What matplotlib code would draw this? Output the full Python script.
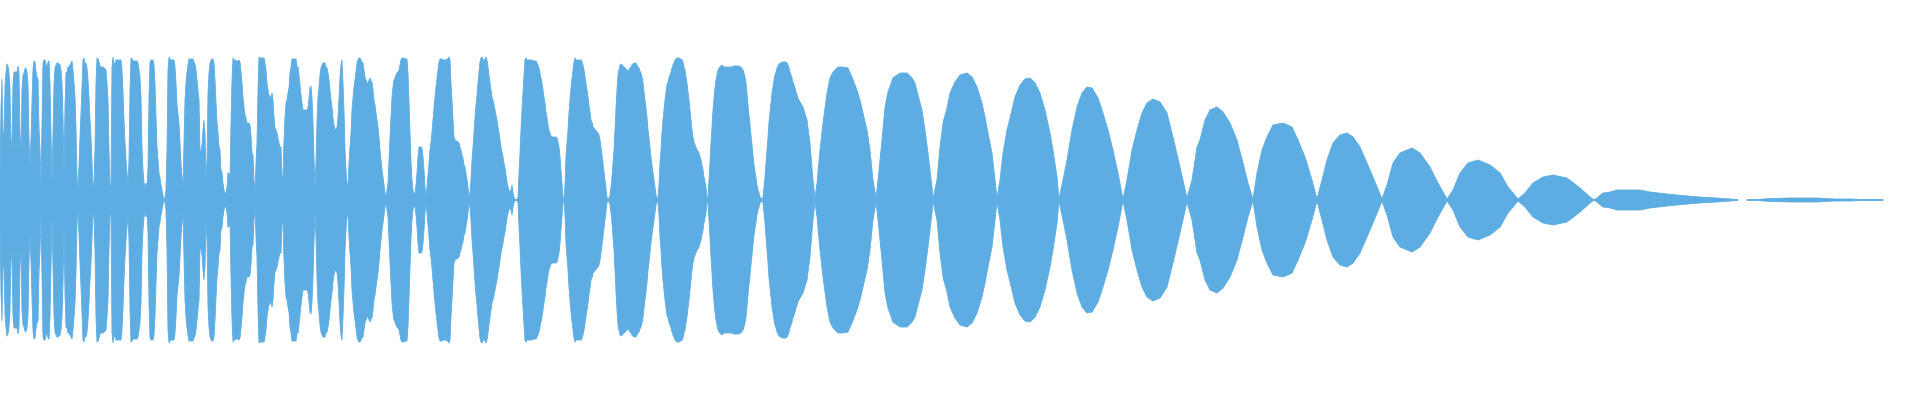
import numpy as np
import matplotlib
matplotlib.use("Agg")
import matplotlib.pyplot as plt

# waveform peak level, one reading per column for the busy first part (columns 0-799)
dense_level = [
    27, 92, 121, 63, 68, 114, 128, 136, 134, 127,
    112, 51, 61, 116, 128, 128, 128, 128, 134, 128,
    64, 51, 111, 125, 127, 131, 132, 128, 117, 62,
    32, 61, 98, 131, 139, 138, 129, 122, 122, 73,
    50, 19, 77, 137, 140, 140, 135, 133, 138, 139,
    117, 67, 18, 67, 115, 132, 135, 137, 137, 136,
    135, 130, 117, 83, 30, 93, 127, 128, 133, 133,
    135, 137, 139, 130, 118, 103, 72, 24, 8, 35,
    63, 87, 113, 140, 142, 137, 137, 132, 120, 103,
    80, 63, 38, 13, 18, 51, 118, 142, 141, 138,
    # 100
    134, 133, 133, 133, 132, 131, 130, 117, 100, 50,
    14, 14, 133, 143, 135, 137, 140, 140, 140, 140,
    140, 140, 130, 108, 80, 57, 40, 27, 15, 40,
    110, 142, 141, 139, 139, 139, 139, 139, 137, 130,
    123, 103, 53, 30, 17, 12, 17, 12, 33, 103,
    138, 140, 140, 140, 135, 117, 83, 53, 40, 27,
    22, 15, 10, 5, 0, 2, 10, 50, 130, 143,
    141, 140, 140, 140, 140, 133, 117, 95, 85, 77,
    57, 37, 23, 13, 57, 100, 117, 128, 135, 141,
    141, 141, 141, 141, 138, 136, 130, 120, 110, 100,
    # 200
    50, 48, 55, 70, 80, 67, 22, 40, 107, 127,
    137, 140, 141, 141, 137, 120, 98, 78, 67, 53,
    50, 30, 28, 17, 10, 7, 7, 13, 27, 27,
    18, 77, 120, 142, 140, 140, 139, 139, 139, 140,
    138, 128, 117, 103, 93, 85, 82, 77, 77, 77,
    75, 65, 47, 45, 20, 8, 37, 57, 110, 143,
    142, 142, 142, 142, 142, 137, 130, 117, 110, 105,
    103, 103, 107, 100, 83, 72, 70, 67, 62, 57,
    53, 53, 23, 23, 60, 83, 97, 100, 107, 112,
    127, 133, 141, 141, 141, 141, 141, 133, 133, 125,
    # 300
    115, 105, 97, 90, 90, 90, 90, 90, 92, 102,
    112, 114, 102, 78, 42, 12, 37, 78, 103, 113,
    125, 132, 135, 137, 137, 137, 133, 132, 127, 120,
    110, 100, 93, 82, 75, 71, 70, 73, 83, 102,
    123, 135, 140, 117, 90, 50, 30, 17, 13, 37,
    53, 67, 90, 102, 113, 120, 128, 137, 140, 142,
    142, 140, 138, 137, 130, 123, 120, 117, 117, 120,
    122, 119, 118, 110, 100, 95, 87, 80, 73, 63,
    50, 40, 30, 23, 15, 7, 3, 10, 17, 40,
    63, 83, 103, 113, 120, 122, 125, 127, 128, 130,
    # 400
    135, 140, 142, 142, 142, 141, 141, 141, 127, 98,
    67, 38, 20, 10, 5, 7, 15, 27, 43, 53,
    53, 53, 52, 43, 30, 13, 3, 13, 25, 37,
    50, 58, 68, 80, 92, 103, 113, 122, 130, 138,
    141, 141, 141, 140, 140, 140, 140, 141, 141, 143,
    140, 117, 100, 80, 63, 60, 59, 59, 58, 57,
    53, 50, 45, 42, 35, 33, 27, 20, 13, 3,
    7, 20, 40, 53, 67, 82, 95, 105, 117, 128,
    138, 142, 143, 141, 138, 141, 143, 140, 133, 125,
    117, 110, 103, 100, 95, 90, 85, 80, 73, 67,
    # 500
    60, 53, 48, 43, 37, 32, 25, 18, 13, 10,
    7, 10, 15, 7, 3, 0, 0, 0, 3, 27,
    47, 70, 90, 108, 125, 140, 142, 140, 140, 140,
    140, 140, 140, 139, 139, 139, 139, 137, 135, 132,
    127, 122, 117, 110, 103, 97, 88, 82, 75, 70,
    67, 64, 63, 63, 63, 63, 63, 62, 58, 53,
    43, 30, 17, 3, 0, 15, 43, 57, 70, 87,
    100, 112, 122, 130, 138, 142, 140, 140, 140, 140,
    140, 140, 138, 135, 130, 123, 117, 110, 103, 95,
    88, 80, 78, 73, 72, 70, 70, 68, 67, 65,
    # 600
    60, 53, 45, 37, 28, 20, 12, 2, 2, 0,
    5, 13, 23, 37, 50, 70, 92, 110, 125, 130,
    135, 136, 135, 134, 133, 132, 131, 130, 129, 130,
    132, 133, 135, 136, 137, 137, 137, 135, 133, 132,
    129, 127, 123, 118, 108, 100, 92, 83, 70, 62,
    52, 43, 35, 27, 20, 13, 5, 2, 3, 15,
    37, 50, 67, 80, 90, 100, 108, 115, 118, 122,
    125, 128, 132, 135, 137, 140, 141, 142, 142, 142,
    141, 141, 140, 138, 133, 130, 123, 117, 108, 100,
    90, 80, 70, 63, 58, 55, 53, 50, 49, 47,
    # 700
    43, 40, 35, 30, 23, 18, 12, 3, 2, 20,
    38, 57, 73, 90, 102, 112, 120, 125, 130, 132,
    133, 134, 135, 134, 133, 133, 133, 133, 133, 133,
    133, 133, 133, 134, 134, 134, 134, 134, 134, 134,
    133, 133, 131, 130, 127, 123, 117, 107, 95, 85,
    75, 65, 55, 45, 35, 28, 22, 15, 10, 7,
    3, 2, 0, 3, 13, 23, 37, 50, 63, 78,
    88, 97, 107, 113, 120, 125, 128, 132, 134, 136,
    137, 137, 138, 138, 138, 138, 138, 137, 135, 132,
    128, 125, 122, 118, 115, 112, 108, 105, 102, 100,
]

# smoother decaying part: column / level readings
tail_pos = [
    800, 803, 807, 810, 813, 815,
    817, 820, 823, 827, 830, 833, 838, 843, 848, 852, 857, 860, 863, 867, 870, 873, 876,
    878, 882, 885, 888, 893, 900, 907, 912, 915, 918, 922, 925, 928, 932, 933,
    937, 940, 943, 947, 950, 955, 960, 967, 972, 977, 982, 985, 988, 992, 995, 997,
    1000, 1003, 1007, 1010, 1015, 1020, 1025, 1030, 1035, 1040, 1045, 1050, 1053, 1057, 1059,
    1063, 1067, 1072, 1077, 1082, 1087, 1092, 1098, 1103, 1108, 1113, 1118, 1123,
    1127, 1132, 1137, 1142, 1147, 1153, 1160, 1167, 1173, 1180, 1187,
    1192, 1197, 1200, 1205, 1210, 1217, 1223, 1230, 1237, 1243, 1248, 1253,
    1257, 1262, 1267, 1273, 1283, 1292, 1298, 1305, 1312, 1317,
    1322, 1327, 1333, 1340, 1347, 1353, 1360, 1367, 1373, 1382,
    1387, 1393, 1400, 1412, 1420, 1430, 1438, 1447,
    1453, 1460, 1468, 1478, 1490, 1500, 1508, 1518,
    1525, 1533, 1543, 1553, 1567, 1580, 1590, 1594,
    1597, 1603, 1610, 1617, 1640, 1650, 1667, 1677, 1688, 1700, 1717, 1730, 1738,
    1742,
    1747, 1757, 1763, 1773, 1790, 1817, 1835, 1850, 1863, 1883,
]
tail_level = [
    98, 93, 80, 57, 20, 2,
    17, 50, 77, 107, 122, 128, 133, 133, 132, 123, 110, 100, 87, 70, 50, 20, 2,
    20, 60, 93, 108, 122, 127, 127, 122, 117, 105, 90, 70, 47, 13, 1,
    20, 53, 77, 92, 107, 118, 125, 127, 123, 113, 97, 83, 67, 47, 20, 2,
    20, 47, 70, 82, 103, 115, 121, 122, 117, 107, 90, 67, 50, 23, 1,
    20, 40, 70, 93, 107, 113, 112, 102, 87, 70, 50, 27, 1,
    20, 50, 70, 87, 97, 101, 98, 87, 63, 33, 2,
    20, 53, 60, 80, 90, 93, 88, 77, 60, 37, 17, 1,
    27, 50, 63, 75, 77, 73, 60, 43, 20, 1,
    20, 40, 57, 65, 67, 63, 53, 37, 23, 1,
    15, 37, 47, 52, 47, 33, 17, 1,
    10, 27, 37, 40, 35, 27, 13, 1,
    7, 17, 23, 25, 22, 12, 3, 0,
    2, 7, 8, 10, 10, 8, 6, 5, 4, 3, 2, 1, 0.5,
    np.nan,
    0.5, 0.5, 1, 1.5, 2, 2, 1, 1, 0.5, 0.5,
]

wave_color = "#5DADE2"

pos = np.concatenate([np.arange(len(dense_level)), tail_pos]).astype(float)
level = np.concatenate([dense_level, tail_level]).astype(float)

fig = plt.figure(figsize=(19.2, 4), dpi=100)
ax = fig.add_axes([0, 0, 1, 1])
ax.fill_between(pos, -level, level, color=wave_color, edgecolor=wave_color, linewidth=0.6)
ax.set_xlim(0, 1920)
ax.set_ylim(-200, 200)
ax.axis("off")

fig.savefig("out.png", dpi=100)
